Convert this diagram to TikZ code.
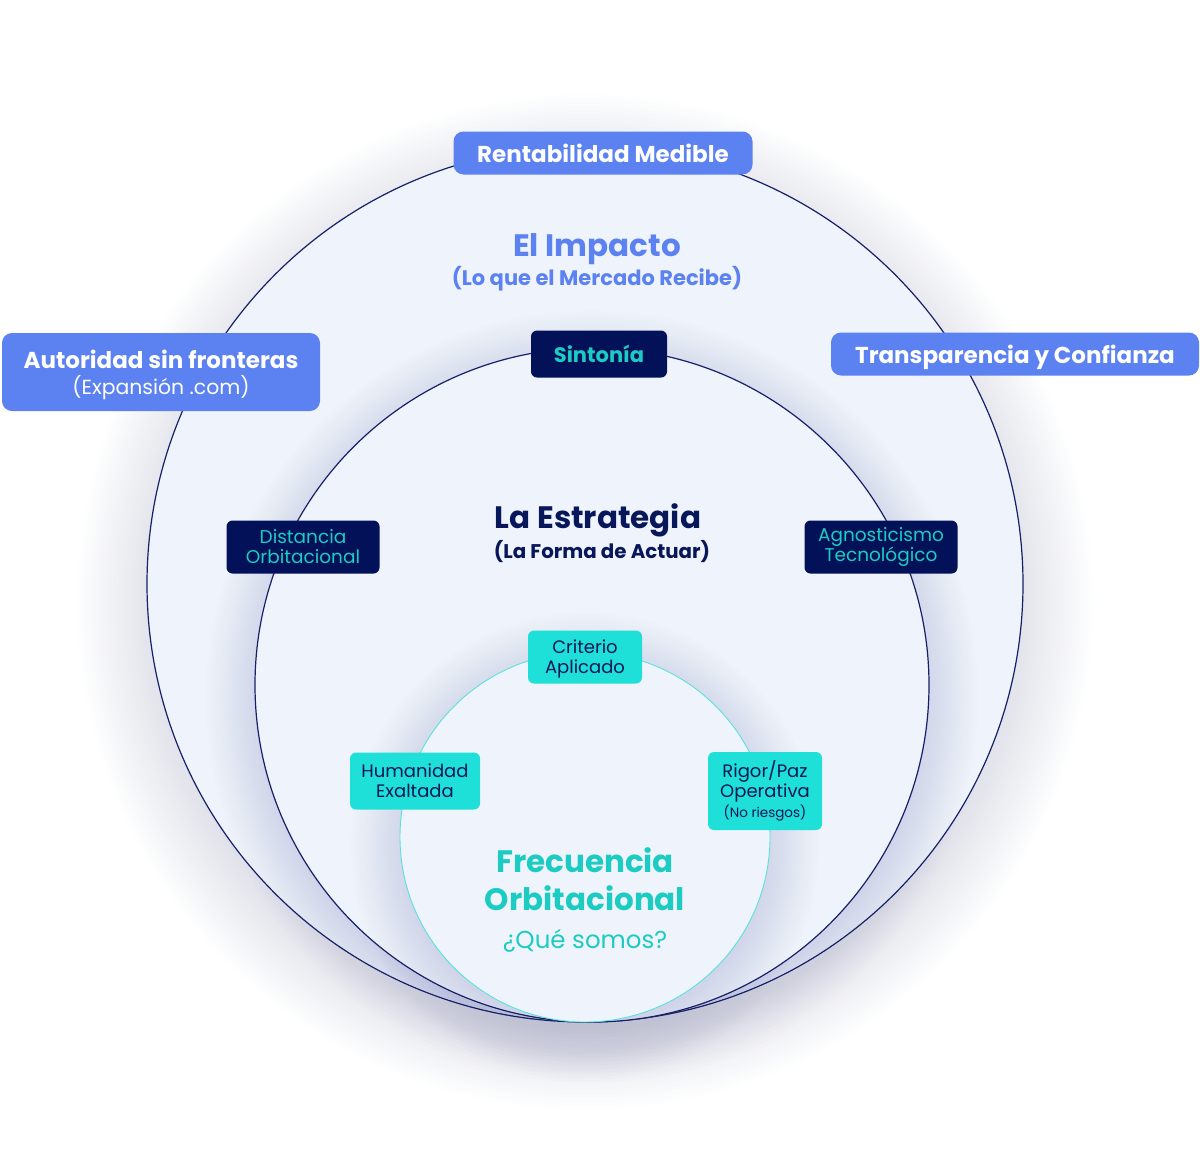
\documentclass[tikz,border=0pt]{standalone}
\usepackage{fontspec}
\setmainfont{Poppins}
\usetikzlibrary{positioning}
\definecolor{orbitfill}{RGB}{239,244,252}
\definecolor{orbitnavy}{RGB}{22,32,104}
\definecolor{orbitcyan}{RGB}{90,226,220}
\definecolor{glowgray}{RGB}{60,66,120}
\definecolor{boxblue}{RGB}{91,130,240}
\definecolor{boxnavy}{RGB}{2,17,88}
\definecolor{boxcyan}{RGB}{31,224,216}
\definecolor{textcyan}{RGB}{28,204,194}
\definecolor{textnavy}{RGB}{8,22,90}

\begin{document}
\begin{tikzpicture}[x=1pt, y=-1pt,
  orbit/.style={circle, draw=orbitnavy, fill=orbitfill, line width=1.2pt, inner sep=0pt},
  glow/.style={fill=glowgray, opacity=0.008},
  bluebox/.style={rectangle, rounded corners=10pt, fill=boxblue, text=white, align=center, inner sep=0pt, font=\bfseries\fontsize{23}{26}\selectfont},
  navybox/.style={rectangle, rounded corners=6pt, fill=boxnavy, text=textcyan, align=center, inner sep=0pt, font=\fontsize{18.5}{20}\selectfont},
  cyanbox/.style={rectangle, rounded corners=6pt, fill=boxcyan, text=textnavy, align=center, inner sep=0pt, font=\fontsize{18}{20}\selectfont},
  heading/.style={anchor=base, inner sep=0pt, font=\bfseries\fontsize{31}{34}\selectfont},
  subheading/.style={anchor=base, inner sep=0pt, font=\bfseries\fontsize{21}{24}\selectfont}
]
\useasboundingbox (0,0) rectangle (1200,1170);

\coordinate (cImpacto) at (585,584);
\coordinate (cEstrategia) at (592,685);
\coordinate (cFrecuencia) at (585,837);

% soft halos and the three orbits
\foreach \i in {1,...,20}
  \fill[glow] ([yshift=-18pt]cImpacto) circle ({428+4*\i});
\node[orbit, minimum size=876pt] (impacto) at (cImpacto) {};
\foreach \i in {1,...,16}
  \fill[glow] ([yshift=-12pt]cEstrategia) circle ({330+3.5*\i});
\node[orbit, minimum size=674pt] (estrategia) at (cEstrategia) {};
\foreach \i in {1,...,16}
  \fill[glow] ([yshift=-10pt]cFrecuencia) circle ({178+3.5*\i});
\node[orbit, draw=orbitcyan, line width=0.9pt, minimum size=370pt] (frecuencia) at (cFrecuencia) {};

% outer ring
\node[bluebox, minimum width=299pt, minimum height=43pt] (rentabilidad) at (603,153) {Rentabilidad Medible};
\node[bluebox, minimum width=318pt, minimum height=78pt, text depth=0pt] (autoridad) at (161,372) {Autoridad sin fronteras\\{\mdseries\fontsize{20.4}{24}\selectfont(Expansión .com)}};
\node[bluebox, minimum width=368pt, minimum height=43pt, text depth=0pt] (transparencia) at (1015,354) {Transparencia y Confianza};
\node[heading, text=boxblue] (impactoTitle) at (597,256) {El Impacto};
\node[subheading, text=boxblue] (impactoSub) at (597,285) {(Lo que el Mercado Recibe)};

% middle ring
\node[navybox, minimum width=136pt, minimum height=47pt, font=\bfseries\fontsize{21}{24}\selectfont] (sintonia) at (599,354) {Sintonía};
\node[navybox, minimum width=153pt, minimum height=53pt] (distancia) at (303,547) {Distancia\\Orbitacional};
\node[navybox, minimum width=153pt, minimum height=53pt] (agnosticismo) at (881,547) {Agnosticismo\\Tecnológico};
\node[heading, text=textnavy] (estrategiaTitle) at (598,528) {La Estrategia};
\node[subheading, text=textnavy, font=\bfseries\fontsize{19.8}{24}\selectfont] (estrategiaSub) at (602,558) {(La Forma de Actuar)};

% inner ring
\node[cyanbox, minimum width=114pt, minimum height=53pt, text depth=0pt] (criterio) at (585,657) {Criterio\\Aplicado};
\node[cyanbox, minimum width=130pt, minimum height=57pt] (humanidad) at (415,781) {Humanidad\\Exaltada};
\node[cyanbox, minimum width=114pt, minimum height=78pt] (rigor) at (765,791) {Rigor/Paz\\Operativa\\{\fontsize{13.5}{16}\selectfont(No riesgos)}};
\node[heading, text=textcyan] (frecuenciaTitle) at (585,872) {Frecuencia};
\node[heading, text=textcyan] (frecuenciaTitle2) at (585,910) {Orbitacional};
\node[anchor=base, inner sep=0pt, text=textcyan, font=\fontsize{24.5}{28}\selectfont] (frecuenciaSub) at (585,948) {¿Qué somos?};
\end{tikzpicture}
\end{document}
